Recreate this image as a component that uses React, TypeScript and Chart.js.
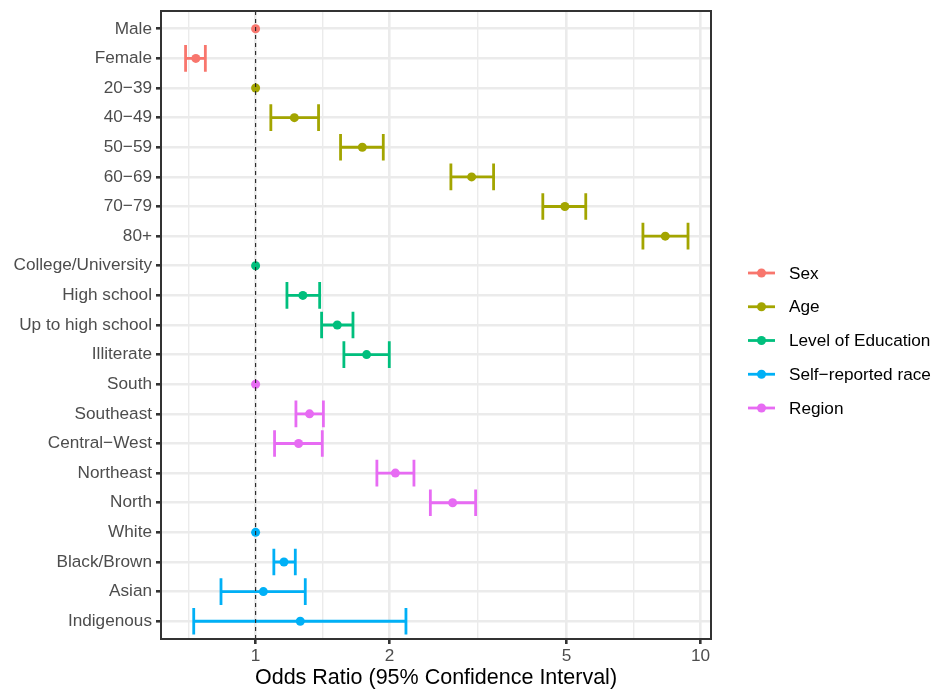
import React, { useEffect, useRef } from "react";
import { Chart, registerables } from "chart.js";

Chart.register(...registerables);

const categories = [
  "Male", "Female",
  "20\u221239", "40\u221249", "50\u221259", "60\u221269", "70\u221279", "80+",
  "College/University", "High school", "Up to high school", "Illiterate",
  "South", "Southeast", "Central\u2212West", "Northeast", "North",
  "White", "Black/Brown", "Asian", "Indigenous",
];

const groupOf = [
  "Sex", "Sex",
  "Age", "Age", "Age", "Age", "Age", "Age",
  "Level of Education", "Level of Education", "Level of Education", "Level of Education",
  "Region", "Region", "Region", "Region", "Region",
  "Self\u2212reported race", "Self\u2212reported race", "Self\u2212reported race", "Self\u2212reported race",
];

const oddsRatio = [1, 0.734, 1, 1.222, 1.737, 3.058, 4.955, 8.33, 1, 1.277, 1.526, 1.776, 1, 1.322, 1.249, 2.061, 2.772, 1, 1.158, 1.041, 1.26];
const ciLower: (number | null)[] = [null, 0.696, null, 1.082, 1.552, 2.747, 4.42, 7.42, null, 1.176, 1.407, 1.579, null, 1.232, 1.103, 1.873, 2.47, null, 1.099, 0.836, 0.726];
const ciUpper: (number | null)[] = [null, 0.771, null, 1.385, 1.936, 3.426, 5.52, 9.37, null, 1.393, 1.655, 1.997, null, 1.42, 1.412, 2.269, 3.122, null, 1.228, 1.293, 2.177];

const groupNames = ["Sex", "Age", "Level of Education", "Self\u2212reported race", "Region"];
const groupColors = ["#F8766D", "#A3A500", "#00BF7D", "#00B0F6", "#E76BF3"];

const majorTicks = [1, 2, 5, 10];
const minorTicks = [0.7071, 1.4142, 3.1623, 7.0711];
const referenceValue = 1;
const xTitle = "Odds Ratio (95% Confidence Interval)";

const FONT = "'Liberation Sans', Arial, Helvetica, sans-serif";
const colorOf = (g: string) => groupColors[groupNames.indexOf(g)];

const forestPlugin = {
  id: "forest",
  beforeDatasetsDraw(chart: any) {
    const { ctx, chartArea } = chart;
    const xs = chart.scales.x;
    const ys = chart.scales.y;
    ctx.save();
    ctx.beginPath();
    ctx.rect(chartArea.left, chartArea.top, chartArea.right - chartArea.left, chartArea.bottom - chartArea.top);
    ctx.clip();
    ctx.lineWidth = 2.8;
    ctx.lineCap = "butt";
    categories.forEach((_, i) => {
      const lo = ciLower[i];
      const hi = ciUpper[i];
      if (lo == null || hi == null) return;
      const x1 = xs.getPixelForValue(lo);
      const x2 = xs.getPixelForValue(hi);
      const y = ys.getPixelForValue(i);
      const yTop = ys.getPixelForValue(i - 0.45);
      const yBot = ys.getPixelForValue(i + 0.45);
      ctx.strokeStyle = colorOf(groupOf[i]);
      ctx.beginPath();
      ctx.moveTo(x1, y);
      ctx.lineTo(x2, y);
      ctx.moveTo(x1, yTop);
      ctx.lineTo(x1, yBot);
      ctx.moveTo(x2, yTop);
      ctx.lineTo(x2, yBot);
      ctx.stroke();
    });
    ctx.restore();
  },
  afterDatasetsDraw(chart: any) {
    const { ctx, chartArea } = chart;
    const xs = chart.scales.x;
    ctx.save();
    const xr = xs.getPixelForValue(referenceValue);
    ctx.strokeStyle = "#222222";
    ctx.lineWidth = 1.1;
    ctx.setLineDash([4, 4]);
    ctx.beginPath();
    ctx.moveTo(xr, chartArea.top);
    ctx.lineTo(xr, chartArea.bottom);
    ctx.stroke();
    ctx.setLineDash([]);
    ctx.strokeStyle = "#333333";
    ctx.lineWidth = 2;
    ctx.strokeRect(chartArea.left, chartArea.top, chartArea.right - chartArea.left, chartArea.bottom - chartArea.top);
    const keyX = chartArea.right + 37;
    const centerY = chart.height / 2 - 5.5;
    const step = 33.75;
    ctx.font = `17.2px ${FONT}`;
    ctx.textBaseline = "middle";
    ctx.textAlign = "left";
    groupNames.forEach((name, i) => {
      const y = centerY + (i - (groupNames.length - 1) / 2) * step;
      ctx.strokeStyle = groupColors[i];
      ctx.lineWidth = 2.8;
      ctx.beginPath();
      ctx.moveTo(keyX, y);
      ctx.lineTo(keyX + 27, y);
      ctx.stroke();
      ctx.fillStyle = groupColors[i];
      ctx.beginPath();
      ctx.arc(keyX + 13.5, y, 4.5, 0, Math.PI * 2);
      ctx.fill();
      ctx.fillStyle = "#000000";
      ctx.fillText(name, keyX + 41, y + 1);
    });
    ctx.restore();
  },
};

export default function App() {
  const canvasRef = useRef<HTMLCanvasElement | null>(null);

  useEffect(() => {
    if (!canvasRef.current) return;
    Chart.defaults.font.family = FONT;

    const datasets = groupNames.map((g, gi) => ({
      label: g,
      data: categories
        .map((_, i) => i)
        .filter((i) => groupOf[i] === g)
        .map((i) => ({ x: oddsRatio[i], y: i })),
      backgroundColor: groupColors[gi],
      borderColor: groupColors[gi],
      borderWidth: 0,
      pointRadius: 4.5,
      pointHoverRadius: 4.5,
      showLine: false,
    }));

    const chart = new Chart(canvasRef.current, {
      type: "scatter",
      data: { datasets },
      options: {
        animation: false,
        responsive: false,
        devicePixelRatio: 1,
        layout: { padding: { left: 0, top: 11, right: 226, bottom: 0 } },
        plugins: {
          legend: { display: false },
          tooltip: { enabled: false },
        },
        scales: {
          x: {
            type: "logarithmic",
            min: 0.6129,
            max: 10.553,
            bounds: "data",
            afterBuildTicks: (scale: any) => {
              scale.ticks = [...minorTicks, ...majorTicks]
                .sort((a, b) => a - b)
                .map((v) => ({ value: v }));
            },
            afterFit: (scale: any) => {
              scale.height = 53;
              scale.paddingLeft = 0;
              scale.paddingRight = 0;
            },
            ticks: {
              autoSkip: false,
              maxRotation: 0,
              minRotation: 0,
              padding: 2,
              color: "#4D4D4D",
              font: { size: 17.2 },
              callback: (v: any) => (majorTicks.includes(Number(v)) ? String(v) : ""),
            },
            grid: {
              color: "#EBEBEB",
              lineWidth: (c: any) => (majorTicks.includes(c.tick?.value) ? 2.6 : 1.4),
              tickLength: 5,
              tickWidth: 2.6,
              tickColor: (c: any) => (majorTicks.includes(c.tick?.value) ? "#333333" : "rgba(0,0,0,0)"),
            },
            border: { display: false },
            title: {
              display: true,
              text: xTitle,
              color: "#000000",
              font: { size: 21.5 },
              padding: { top: 0, bottom: 1 },
            },
          },
          y: {
            type: "linear",
            min: -0.6,
            max: categories.length - 1 + 0.6,
            reverse: true,
            bounds: "data",
            afterBuildTicks: (scale: any) => {
              scale.ticks = categories.map((_, i) => ({ value: i }));
            },
            afterFit: (scale: any) => {
              scale.width = 161;
              scale.paddingTop = 0;
              scale.paddingBottom = 0;
            },
            ticks: {
              autoSkip: false,
              padding: 4,
              color: "#4D4D4D",
              font: { size: 17.2 },
              callback: (v: any) => categories[Number(v)] ?? "",
            },
            grid: {
              color: "#EBEBEB",
              lineWidth: 2.6,
              tickLength: 5,
              tickWidth: 2.6,
              tickColor: "#333333",
            },
            border: { display: false },
          },
        },
      },
      plugins: [forestPlugin],
    });

    return () => chart.destroy();
  }, []);

  return (
    <div style={{ position: "absolute", left: 0, top: 0, width: 937, height: 692, background: "#ffffff" }}>
      <canvas ref={canvasRef} width={937} height={692} style={{ width: 937, height: 692, display: "block" }} />
    </div>
  );
}
